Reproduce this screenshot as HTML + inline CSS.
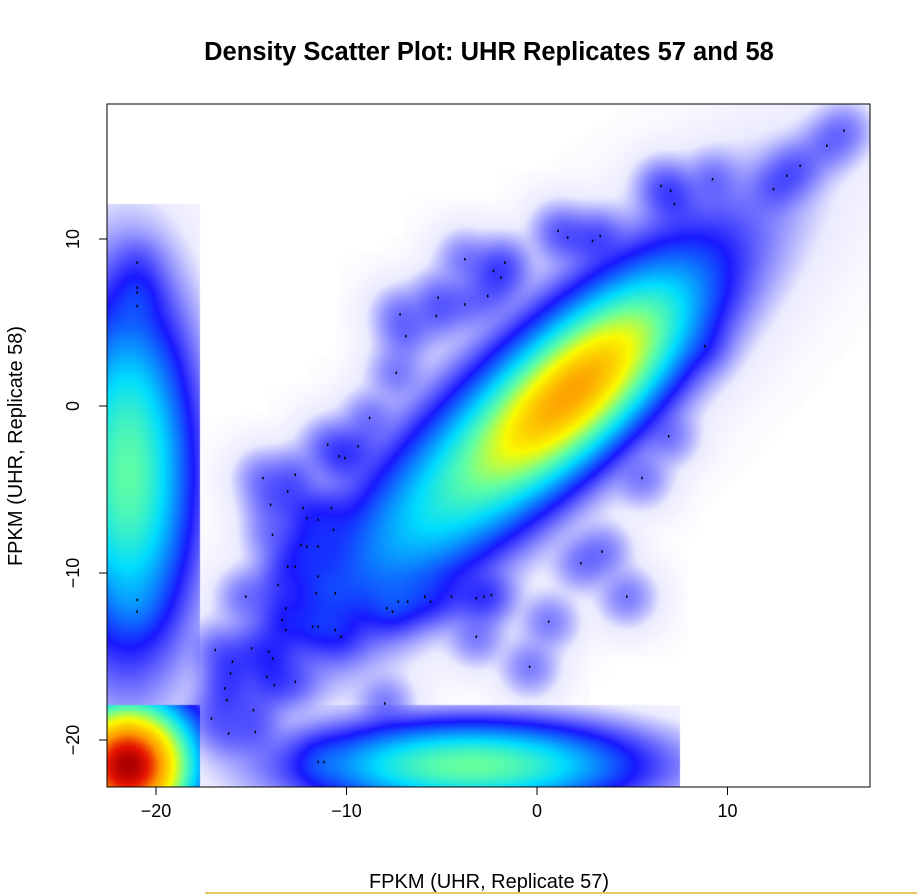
<!DOCTYPE html>
<html><head><meta charset="utf-8"><style>
body{margin:0;background:#fff;width:917px;height:896px;overflow:hidden;font-family:"Liberation Sans",sans-serif;}
#wrap{position:relative;width:917px;height:896px;}
canvas{position:absolute;left:107px;top:104px;}
svg{position:absolute;left:0;top:0;}
</style></head><body>
<div id="wrap">
<canvas id="cv" width="763" height="683"></canvas>
<svg id="sv" width="917" height="896">
<text x="489" y="60" text-anchor="middle" font-size="25.5" font-weight="bold">Density Scatter Plot: UHR Replicates 57 and 58</text>
<text x="489" y="888" text-anchor="middle" font-size="20">FPKM (UHR, Replicate 57)</text>
<text transform="translate(22,446) rotate(-90)" text-anchor="middle" font-size="20">FPKM (UHR, Replicate 58)</text>
<line x1="205" y1="893" x2="917" y2="893" stroke="#e8c860" stroke-width="2"/>
</svg>
</div>
<script>
// data
const xTicks=[-20,-10,0,10];
const yTicks=[-20,-10,0,10];
const ptX=[16.1,15.2,13.8,13.1,12.4,9.2,6.5,7.0,7.2,1.1,1.6,2.9,3.3,-3.8,-2.3,-1.9,-1.7,-2.6,-5.2,-3.8,-5.3,-7.2,-6.9,-7.4,-8.8,-9.4,-10.4,-10.1,-11.0,-12.7,-14.4,-13.1,-14.0,-12.3,-12.1,-11.5,-10.8,-10.7,-13.9,-12.4,-12.1,-11.5,-13.1,-12.7,-11.5,-13.6,-11.6,-10.6,-15.3,-13.2,-13.4,-13.2,-11.8,-11.5,-10.6,-10.3,-15.0,-14.1,-13.9,-16.9,-16.0,-16.1,-14.2,-12.7,-13.8,-16.4,-16.3,-14.9,-17.1,-8.0,-16.2,-14.8,-11.5,-11.2,-7.9,-7.6,-7.3,-6.8,-5.9,-5.6,-4.5,-3.2,-2.8,-2.4,-3.2,-0.4,0.6,2.3,3.4,4.7,5.5,6.9,8.8,-21.0,-21.0,-21.0,-21.0,-21.0,-21.0];
const ptY=[16.5,15.6,14.4,13.8,13.0,13.6,13.2,12.9,12.1,10.5,10.1,9.9,10.2,8.8,8.1,7.7,8.6,6.6,6.5,6.1,5.4,5.5,4.2,2.0,-0.7,-2.4,-3.0,-3.1,-2.3,-4.1,-4.3,-5.1,-5.9,-6.1,-6.7,-6.8,-6.1,-7.4,-7.7,-8.3,-8.4,-8.4,-9.6,-9.6,-10.2,-10.7,-11.2,-11.2,-11.4,-12.1,-12.8,-13.4,-13.2,-13.2,-13.4,-13.8,-14.5,-14.7,-15.1,-14.6,-15.3,-16.0,-16.2,-16.5,-16.7,-16.9,-17.6,-18.2,-18.7,-17.8,-19.6,-19.5,-21.3,-21.3,-12.1,-12.3,-11.7,-11.7,-11.4,-11.7,-11.4,-11.5,-11.4,-11.3,-13.8,-15.6,-12.9,-9.4,-8.7,-11.4,-4.3,-1.8,3.6,8.6,7.1,6.8,6.0,-11.6,-12.3];
// cluster centers (data units), peak weights
const clX=[2,-1,-21.5,-21.5,-3.5];
const clY=[1,-1.5,-4,-21.5,-21.5];
const clW=[0.42,0.14,0.16,1,0.17];

const X0=107,X1=870,Y0=104,Y1=787;
const sx=v=>537+v*19.05, sy=v=>406-v*16.7;
const NS='http://www.w3.org/2000/svg';
const sv=document.getElementById('sv');
function mk(t,a){const e=document.createElementNS(NS,t);for(const k in a)e.setAttribute(k,a[k]);sv.appendChild(e);return e;}

const cv=document.getElementById('cv'),ctx=cv.getContext('2d');
const W=cv.width,H=cv.height;
const d=new Float32Array(W*H);
function addG(cx,cy,sa,sb,ang,w,clip){
  const c=Math.cos(ang),s=Math.sin(ang);
  const R=Math.max(sa,sb)*4;
  const xa=Math.max(clip[0],Math.floor(cx-R)),xb=Math.min(clip[2],Math.ceil(cx+R));
  const ya=Math.max(clip[1],Math.floor(cy-R)),yb=Math.min(clip[3],Math.ceil(cy+R));
  for(let y=ya;y<yb;y++)for(let x=xa;x<xb;x++){
    const dx=x-cx,dy=y-cy;const u=dx*c+dy*s,v=-dx*s+dy*c;
    const q=u*u/(sa*sa)+v*v/(sb*sb);if(q>30)continue;
    d[(y-Y0)*W+(x-X0)]+=w*Math.exp(-q/2);
  }
}
const full=[X0,Y0,X1,Y1];
const ang=-43*Math.PI/180;
addG(sx(clX[0]),sy(clY[0]),68,27,ang,clW[0],full);
addG(sx(clX[1]),sy(clY[1]),120,34,ang,clW[1],full);
addG(sx(clX[2]),sy(clY[2]),30,80,0,clW[2],[X0,204,200,705]);
addG(sx(clX[3]),sy(clY[3]),30,30,0,clW[3],[X0,705,200,Y1]);
addG(sx(clX[4]),sy(clY[4]),75,20,0,clW[4],[200,705,680,Y1]);
for(let i=0;i<ptX.length;i++){
  const l=ptX[i]<-18.5?[X0,204,200,705]:full;
  addG(sx(ptX[i]),sy(ptY[i]),15,15,0,0.0035,l);
}
const stops=[[0,[255,255,255]],[0.13,[235,235,255]],[0.35,[25,25,255]],[0.53,[0,220,255]],[0.64,[100,255,160]],[0.75,[250,250,0]],[0.87,[255,150,0]],[0.95,[230,20,0]],[1,[170,0,0]]];
function col(v){v=Math.min(1,Math.max(0,v));for(let i=1;i<stops.length;i++){if(v<=stops[i][0]){const a=stops[i-1],b=stops[i];const t=(v-a[0])/(b[0]-a[0]);return a[1].map((c,k)=>c+(b[1][k]-c)*t);}}return stops[stops.length-1][1];}
const img=ctx.createImageData(W,H);
for(let i=0;i<W*H;i++){const c=col(Math.pow(d[i],0.25));img.data[i*4]=c[0];img.data[i*4+1]=c[1];img.data[i*4+2]=c[2];img.data[i*4+3]=255;}
ctx.putImageData(img,0,0);

for(let i=0;i<ptX.length;i++){
  const r=mk('rect',{x:sx(ptX[i])-0.5,y:sy(ptY[i])-1,width:1.5,height:2.5,fill:'#000'});
  
  
}
const fr=mk('rect',{x:X0,y:Y0,width:X1-X0,height:Y1-Y0,fill:'none',stroke:'#000','stroke-width':1});


for(const t of xTicks){
  const tk=mk('line',{x1:sx(t),x2:sx(t),y1:Y1,y2:Y1+8,stroke:'#000'});
  
  
  const lb=mk('text',{x:sx(t),y:Y1+30,'text-anchor':'middle','font-size':18});
  lb.textContent=t<0?'\u2212'+(-t):t;
  
  
}
for(const t of yTicks){
  const tk=mk('line',{x1:X0-8,x2:X0,y1:sy(t),y2:sy(t),stroke:'#000'});
  
  
  const lb=mk('text',{transform:`translate(${X0-28},${sy(t)}) rotate(-90)`,'text-anchor':'middle','font-size':18});
  lb.textContent=t<0?'\u2212'+(-t):t;
  
  
}
</script>
</body></html>
